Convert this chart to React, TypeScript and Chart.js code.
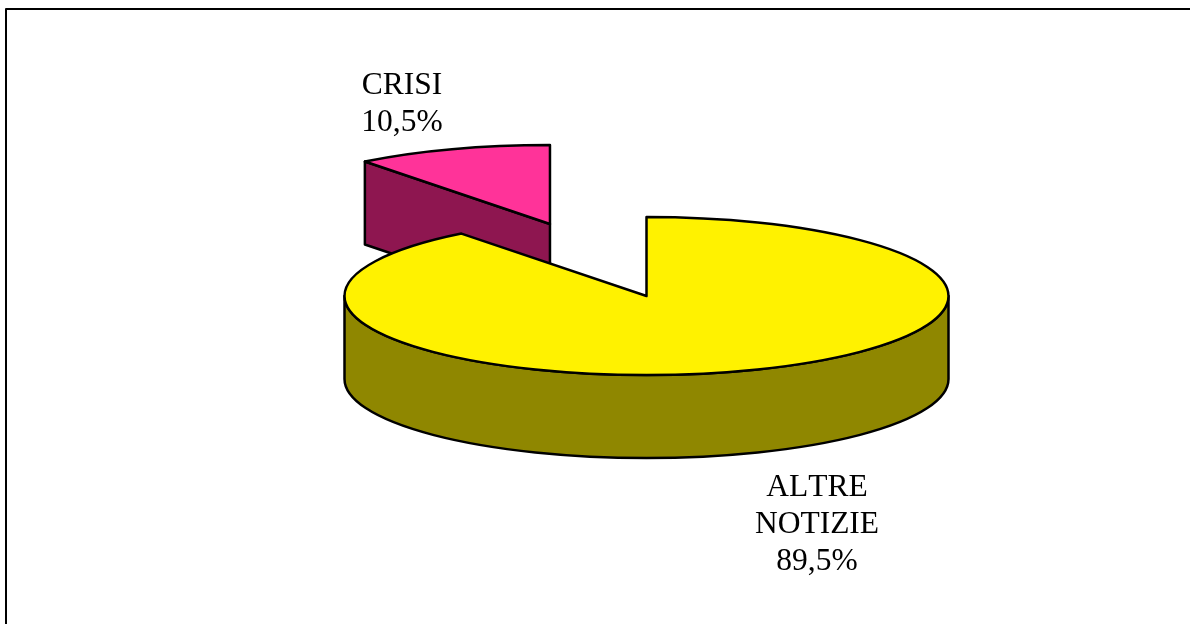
import { useEffect, useRef } from "react";
import { Chart, registerables } from "chart.js";

Chart.register(...registerables);

const categories = ["ALTRE NOTIZIE", "CRISI"];
const values = [89.5, 10.5];
const valueLabels = ["89,5%", "10,5%"];
const topColors = ["#FFF200", "#FF3399"];
const sideColors = ["#8F8700", "#8E1650"];
const explode = [0, 298];

const RX = 302;
const RY = 79;
const DEPTH = 83;
const EXPLODE_TILT = 0.2555;
const FONT = "31.5px 'Liberation Serif'";
const labelLines = [
  { x: 817, y: 496, lines: ["ALTRE", "NOTIZIE", valueLabels[0]] },
  { x: 402, y: 94, lines: ["CRISI", valueLabels[1]] },
];

const pie3d = {
  id: "pie3d",
  beforeDatasetDraw(chart: any) {
    const ctx: CanvasRenderingContext2D = chart.ctx;
    const arcs = chart.getDatasetMeta(0).data;
    ctx.save();
    ctx.strokeStyle = "#000";
    ctx.lineJoin = "round";

    // frame
    ctx.beginPath();
    ctx.moveTo(6, 624);
    ctx.lineTo(6, 9);
    ctx.lineTo(1190, 9);
    ctx.lineWidth = 2;
    ctx.stroke();
    ctx.lineWidth = 2.5;

    const order = arcs.map((_: any, i: number) => i).sort((a: number, b: number) => explode[b] - explode[a]);
    for (const i of order) {
      const arc = arcs[i];
      const { x, y, startAngle: a, endAngle: b } = arc.getProps(["x", "y", "startAngle", "endAngle"], true);
      const mid = (a + b) / 2;
      const cx = x + Math.cos(mid) * explode[i];
      const cy = y + Math.sin(mid) * explode[i] * EXPLODE_TILT;
      const px = (t: number) => cx + RX * Math.cos(t);
      const py = (t: number) => cy + RY * Math.sin(t);
      const side = sideColors[i];

      const face = (t: number) => {
        ctx.beginPath();
        ctx.moveTo(cx, cy);
        ctx.lineTo(px(t), py(t));
        ctx.lineTo(px(t), py(t) + DEPTH);
        ctx.lineTo(cx, cy + DEPTH);
        ctx.closePath();
        ctx.fillStyle = side;
        ctx.fill();
        ctx.stroke();
      };
      if (Math.sin(a - Math.PI / 2) > 1e-6) face(a);
      if (Math.sin(b + Math.PI / 2) > 1e-6) face(b);

      // front rim: the part of the arc that lies in the lower half of the ellipse
      const from = Math.max(a, 0);
      const to = Math.min(b, Math.PI);
      if (to > from) {
        ctx.beginPath();
        ctx.ellipse(cx, cy, RX, RY, 0, from, to);
        ctx.lineTo(px(to), py(to) + DEPTH);
        ctx.ellipse(cx, cy + DEPTH, RX, RY, 0, to, from, true);
        ctx.closePath();
        ctx.fillStyle = side;
        ctx.fill();
        ctx.stroke();
      }

      // top face
      ctx.beginPath();
      ctx.moveTo(cx, cy);
      ctx.ellipse(cx, cy, RX, RY, 0, a, b);
      ctx.closePath();
      ctx.fillStyle = arc.options.backgroundColor;
      ctx.fill();
      ctx.stroke();
    }

    ctx.fillStyle = "#000";
    ctx.font = FONT;
    (ctx as any).fontKerning = "none";
    ctx.textAlign = "center";
    ctx.textBaseline = "alphabetic";
    for (const l of labelLines) {
      l.lines.forEach((t, k) => ctx.fillText(t, l.x, l.y + k * 37));
    }
    ctx.restore();
    return false;
  },
};

export default function App() {
  const ref = useRef<HTMLCanvasElement>(null);
  useEffect(() => {
    const chart = new Chart(ref.current!, {
      type: "pie",
      data: {
        labels: categories,
        datasets: [{ data: values, backgroundColor: topColors, borderColor: "#000", borderWidth: 0 }],
      },
      options: {
        animation: false,
        responsive: false,
        layout: { padding: { left: 103, bottom: 32 } },
        plugins: { legend: { display: false }, tooltip: { enabled: false } },
      },
      plugins: [pie3d],
    } as any);
    return () => chart.destroy();
  }, []);
  return (
    <canvas
      ref={ref}
      width={1190}
      height={624}
      style={{ position: "absolute", left: 0, top: 0, width: 1190, height: 624, display: "block" }}
    />
  );
}
